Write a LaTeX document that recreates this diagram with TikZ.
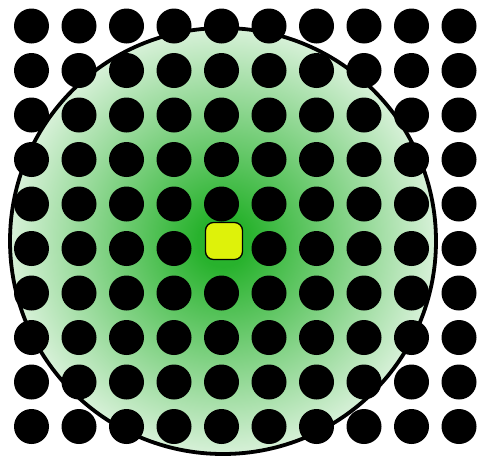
\documentclass[tikz,border=0pt]{standalone}
\definecolor{glowgreen}{RGB}{40,178,45}
\definecolor{chipyellow}{RGB}{222,242,10}
\pgfdeclareradialshading{glow}{\pgfpoint{0bp}{0bp}}{color(0bp)=(glowgreen); color(3bp)=(glowgreen); color(30bp)=(white); color(50bp)=(white)}
\tikzset{
  field/.style={draw=black, line width=3.8pt, shading=glow},
  pin/.style={circle, fill=black, inner sep=0pt, minimum size=35pt},
  chip/.style={rectangle, rounded corners=8pt, draw=black, line width=1.3pt, fill=chipyellow, minimum size=37pt, inner sep=0pt}
}
\begin{document}
\begin{tikzpicture}[x=1pt,y=-1pt]
\useasboundingbox (0,0) rectangle (481,458);
\node[field, circle, minimum size=426pt, inner sep=0pt] (field) at (223,241) {};
\foreach \i in {0,...,9}{
  \foreach \j in {0,...,9}{
    \pgfmathsetmacro{\px}{31.5+47.5*\i}
    \pgfmathsetmacro{\py}{26+44.5*\j}
    \ifnum\i=4 \ifnum\j=5 \else
      \node[pin] (p\i\j) at (\px,\py) {};
    \fi \else
      \node[pin] (p\i\j) at (\px,\py) {};
    \fi
  }
}
\node[chip] (chip) at (224,241) {};
\end{tikzpicture}
\end{document}
